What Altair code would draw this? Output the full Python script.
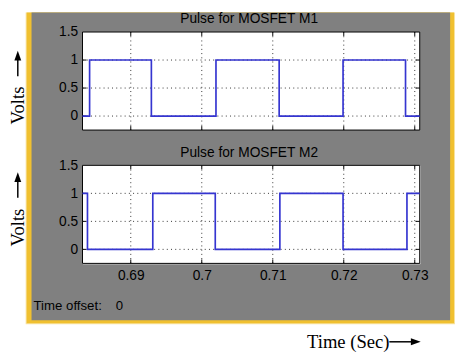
import altair as alt
import pandas as pd

# ---- data ----
x_ticks = [0.69, 0.70, 0.71, 0.72, 0.73]
y_ticks = [0.0, 0.5, 1.0, 1.5]
y_grid = [0.0, 0.5, 1.0]
x_domain = [0.6832, 0.7307]
y_domain = [-0.25, 1.5]

m1_time = [0.6832, 0.6842, 0.6929, 0.7020, 0.7109, 0.7199, 0.7287, 0.7307]
m1_volt = [0, 1, 0, 1, 0, 1, 0, 0]
m2_time = [0.6832, 0.6839, 0.6931, 0.7019, 0.7110, 0.7199, 0.7289, 0.7307]
m2_volt = [1, 0, 1, 0, 1, 0, 1, 1]

titles = ["Pulse for MOSFET M1", "Pulse for MOSFET M2"]

W, H = 344, 100
SANS = "Liberation Sans"
SERIF = "Liberation Serif"
GRAY = "#808080"
LINE = "#3535d0"


def panel(title, times, volts, is_top):
    xs = alt.Scale(domain=x_domain, nice=False, zero=False)
    ys = alt.Scale(domain=y_domain, nice=False, zero=False)
    if is_top:
        xaxis = None
    else:
        xaxis = alt.Axis(values=x_ticks, format=".2~f", domain=False, ticks=False,
                         grid=False, labelPadding=5, title=None, zindex=1,
                         labelFont=SANS, labelFontSize=14, labelColor="black",
                         labelFlush=False)
    yaxis = alt.Axis(values=y_ticks, format=".1~f", domain=False, ticks=False,
                     grid=False, labelPadding=5, title=None, zindex=1,
                     labelFont=SANS, labelFontSize=14, labelColor="black",
                     labelFlush=False)
    X = alt.X("t:Q", scale=xs, axis=xaxis)
    Y = alt.Y("v:Q", scale=ys, axis=yaxis)

    one = pd.DataFrame({"k": [0]})
    sig = pd.DataFrame({"t": times, "v": volts})
    xt = pd.DataFrame({"t": x_ticks})
    yt = pd.DataFrame({"v": y_grid})

    layers = []
    if is_top:
        base = alt.Chart(one)
        layers += [
            base.mark_rect(fill="white").encode(
                x=alt.value(-74), x2=alt.value(380), y=alt.value(-20), y2=alt.value(327)),
            base.mark_rect(fill="#f8e3a0").encode(
                x=alt.value(-58), x2=alt.value(380), y=alt.value(-20), y2=alt.value(298)),
            base.mark_rect(fill="#f0c030").encode(
                x=alt.value(-57), x2=alt.value(379), y=alt.value(-20), y2=alt.value(297)),
            base.mark_rect(fill=GRAY).encode(
                x=alt.value(-52), x2=alt.value(375), y=alt.value(-20), y2=alt.value(294)),
        ]
    base = alt.Chart(one)
    layers.append(base.mark_rect(fill="white", stroke="black", strokeWidth=1).encode(
        x=alt.value(0), x2=alt.value(W), y=alt.value(0), y2=alt.value(H)))
    # dotted grid
    layers.append(alt.Chart(xt).mark_rule(color="#333", strokeWidth=1, strokeDash=[1, 3.3]).encode(
        x=X, y=alt.value(0), y2=alt.value(H)))
    layers.append(alt.Chart(yt).mark_rule(color="#333", strokeWidth=1, strokeDash=[1, 3.3]).encode(
        y=Y, x=alt.value(0), x2=alt.value(W)))
    # inward ticks
    layers.append(alt.Chart(xt).mark_rule(color="black", strokeWidth=1).encode(
        x=X, y=alt.value(H - 4), y2=alt.value(H)))
    layers.append(alt.Chart(xt).mark_rule(color="black", strokeWidth=1).encode(
        x=X, y=alt.value(0), y2=alt.value(4)))
    layers.append(alt.Chart(yt).mark_rule(color="black", strokeWidth=1).encode(
        y=Y, x=alt.value(0), x2=alt.value(4)))
    layers.append(alt.Chart(yt).mark_rule(color="black", strokeWidth=1).encode(
        y=Y, x=alt.value(W - 4), x2=alt.value(W)))
    # signal
    layers.append(alt.Chart(sig).mark_line(interpolate="step-after", color=LINE,
                                           strokeWidth=1.7).encode(x=X, y=Y))
    # title
    layers.append(base.mark_text(text=title, font=SANS, fontSize=14, align="center",
                                 baseline="alphabetic", color="black").encode(
        x=alt.value(W / 2 - 2), y=alt.value(-9)))
    # Volts label with arrow
    vy = 75 if is_top else 63.5
    tip = 19 if is_top else 7
    layers.append(base.mark_text(text="Volts", font=SERIF, fontSize=19, angle=270,
                                 align="center", baseline="alphabetic", color="black").encode(
        x=alt.value(-60), y=alt.value(vy)))
    layers.append(base.mark_rule(color="black", strokeWidth=1.5).encode(
        x=alt.value(-66), y=alt.value(tip + 5), y2=alt.value(tip + 26)))
    layers.append(base.mark_point(shape="M -0.7 1 L 0 -1 L 0.7 1 Z", filled=True, size=100,
                                  color="black", opacity=1).encode(
        x=alt.value(-66), y=alt.value(tip + 5)))
    if not is_top:
        layers.append(base.mark_text(text="Time offset:", font=SANS, fontSize=13.5, align="left",
                                     baseline="alphabetic", color="black").encode(
            x=alt.value(-50), y=alt.value(148)))
        layers.append(base.mark_text(text="0", font=SANS, fontSize=13.5, align="left",
                                     baseline="alphabetic", color="black").encode(
            x=alt.value(34), y=alt.value(148)))
        layers.append(base.mark_text(text="Time (Sec)", font=SERIF, fontSize=19, align="left",
                                     baseline="alphabetic", color="black").encode(
            x=alt.value(229), y=alt.value(186)))
        layers.append(base.mark_rule(color="black", strokeWidth=1.5).encode(
            x=alt.value(313), x2=alt.value(340), y=alt.value(180)))
        layers.append(base.mark_point(shape="M -1 -0.7 L 1 0 L -1 0.7 Z", filled=True, size=100,
                                      color="black", opacity=1).encode(
            x=alt.value(340), y=alt.value(180)))
    return alt.layer(*layers).properties(width=W, height=H)


top = panel(titles[0], m1_time, m1_volt, True)
bottom = panel(titles[1], m2_time, m2_volt, False)

chart = alt.vconcat(top, bottom, spacing=36, bounds="flush").properties(
    padding=0
).configure_view(stroke="transparent").configure(background="white")

chart.save("out.html", embed_options={"renderer": "svg", "actions": False})
